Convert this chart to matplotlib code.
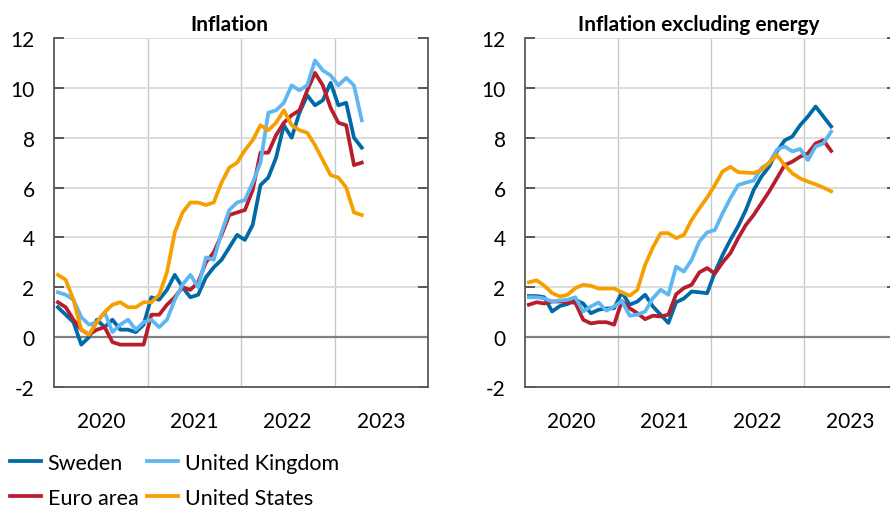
import numpy as np
import matplotlib
matplotlib.use("Agg")
import matplotlib.pyplot as plt

plt.rcParams['font.family'] = ['Lato', 'DejaVu Sans']
plt.rcParams['axes.unicode_minus'] = False

# monthly data, Jan 2020 - Apr 2023 (annual percentage change)
series = ["Sweden", "Euro area", "United Kingdom", "United States"]
colors = ["#006AA7", "#B81D2E", "#5FB7F2", "#F5A000"]
years = ["2020", "2021", "2022", "2023"]

se_infl = [1.2, 0.9, 0.6, -0.3, 0.0, 0.7, 0.4, 0.7, 0.3, 0.3, 0.2, 0.5,
           1.6, 1.5, 1.9, 2.5, 2.0, 1.6, 1.7, 2.4, 2.8, 3.1, 3.6, 4.1,
           3.9, 4.5, 6.1, 6.4, 7.2, 8.5, 8.0, 9.0, 9.7, 9.3, 9.5, 10.2,
           9.3, 9.4, 8.0, 7.6]
ea_infl = [1.4, 1.2, 0.7, 0.3, 0.1, 0.3, 0.4, -0.2, -0.3, -0.3, -0.3, -0.3,
           0.9, 0.9, 1.3, 1.6, 2.0, 1.9, 2.2, 3.0, 3.4, 4.1, 4.9, 5.0,
           5.1, 5.9, 7.4, 7.4, 8.1, 8.6, 8.9, 9.1, 9.9, 10.6, 10.1, 9.2,
           8.6, 8.5, 6.9, 7.0]
uk_infl = [1.8, 1.7, 1.5, 0.8, 0.5, 0.6, 1.0, 0.2, 0.5, 0.7, 0.3, 0.6,
           0.7, 0.4, 0.7, 1.5, 2.1, 2.5, 2.0, 3.2, 3.1, 4.2, 5.1, 5.4,
           5.5, 6.2, 7.0, 9.0, 9.1, 9.4, 10.1, 9.9, 10.1, 11.1, 10.7, 10.5,
           10.1, 10.4, 10.1, 8.7]
us_infl = [2.5, 2.3, 1.5, 0.3, 0.1, 0.6, 1.0, 1.3, 1.4, 1.2, 1.2, 1.4,
           1.4, 1.7, 2.6, 4.2, 5.0, 5.4, 5.4, 5.3, 5.4, 6.2, 6.8, 7.0,
           7.5, 7.9, 8.5, 8.3, 8.6, 9.1, 8.5, 8.3, 8.2, 7.7, 7.1, 6.5,
           6.4, 6.0, 5.0, 4.9]

se_exen = [1.65, 1.65, 1.6, 1.03, 1.25, 1.33, 1.5, 1.35, 0.96, 1.1, 1.15, 1.16,
           1.8, 1.3, 1.43, 1.7, 1.23, 0.9, 0.57, 1.4, 1.55, 1.83, 1.8, 1.76,
           2.6, 3.3, 3.9, 4.45, 5.1, 5.9, 6.44, 6.84, 7.45, 7.89, 8.05, 8.5,
           8.85, 9.25, 8.85, 8.45]
ea_exen = [1.3, 1.4, 1.35, 1.43, 1.43, 1.4, 1.38, 0.7, 0.55, 0.6, 0.6, 0.5,
           1.45, 1.16, 0.96, 0.72, 0.86, 0.83, 0.9, 1.72, 1.97, 2.1, 2.6, 2.77,
           2.55, 3.0, 3.37, 3.97, 4.5, 4.9, 5.37, 5.84, 6.37, 6.9, 7.04, 7.24,
           7.37, 7.77, 7.9, 7.47]
uk_exen = [1.6, 1.6, 1.55, 1.43, 1.47, 1.5, 1.6, 1.03, 1.23, 1.39, 1.06, 1.23,
           1.45, 0.86, 0.9, 1.03, 1.56, 1.9, 1.7, 2.83, 2.63, 3.1, 3.84, 4.2,
           4.3, 4.97, 5.57, 6.1, 6.2, 6.28, 6.78, 6.98, 7.52, 7.65, 7.45, 7.55,
           7.1, 7.65, 7.77, 8.24]
us_exen = [2.2, 2.28, 2.06, 1.77, 1.63, 1.7, 1.97, 2.1, 2.06, 1.95, 1.95, 1.95,
           1.8, 1.66, 1.9, 2.9, 3.6, 4.17, 4.17, 3.97, 4.1, 4.7, 5.17, 5.6,
           6.1, 6.65, 6.83, 6.62, 6.6, 6.58, 6.7, 7.0, 7.3, 6.9, 6.57, 6.37,
           6.24, 6.13, 6.0, 5.85]

panels = [("Inflation", [se_infl, ea_infl, uk_infl, us_infl]),
          ("Inflation excluding energy", [se_exen, ea_exen, uk_exen, us_exen])]

W, H = 890, 510
fig = plt.figure(figsize=(W / 100, H / 100), dpi=100)
boxes = [(54, 39, 374, 349), (525, 39, 372, 349)]  # x, y from top, w, h in px

lines = []
for (title, data), (bx, by, bw, bh) in zip(panels, boxes):
    ax = fig.add_axes([bx / W, 1 - (by + bh) / H, bw / W, bh / H])
    x = np.arange(len(data[0])) + 0.5
    for vals, c, name in zip(data, colors, series):
        ln, = ax.plot(x, vals, color=c, lw=2.7, label=name, zorder=3)
        if title == "Inflation":
            lines.append(ln)
    ax.axhline(0, color="#808080", lw=1.6, zorder=2)
    ax.set_xlim(0, 48)
    ax.set_ylim(-2, 12)
    ax.set_yticks(range(-2, 13, 2))
    ax.set_xticks([12, 24, 36])
    ax.set_xticklabels([])
    ax.set_xticks([6, 18, 30, 42], minor=True)
    ax.set_xticklabels(years, minor=True)
    ax.tick_params(axis='x', which='both', length=0, labelsize=15, pad=17,
                   colors="black")
    ax.tick_params(axis='y', direction='in', length=7, width=1.2,
                   right=True, labelsize=15, pad=14, color="#404040")
    ax.grid(axis='y', color="#D9D9D9", lw=1.3, zorder=1)
    ax.grid(axis='x', which='major', color="#C8C8C8", lw=1.0, zorder=1)
    for s in ["left", "right", "bottom"]:
        ax.spines[s].set_color("#595959")
        ax.spines[s].set_linewidth(1.3)
    ax.spines["top"].set_visible(False)
    ax.text(0.468, 1.023, title, transform=ax.transAxes, ha='center',
            va='baseline', fontsize=15, fontweight='bold')

fig.legend(handles=lines, labels=series, ncol=2, loc='upper left',
           bbox_to_anchor=(10 / W, 1 - 454 / H), frameon=False, fontsize=15.5,
           handlelength=1.45, handletextpad=0.3, columnspacing=0.4,
           labelspacing=0.68, borderpad=0, borderaxespad=0)

fig.savefig("out.png", dpi=100)
